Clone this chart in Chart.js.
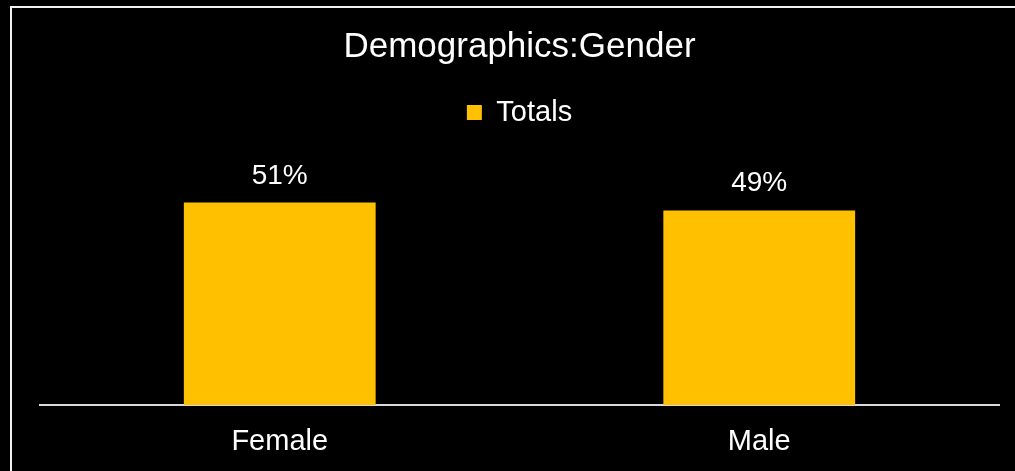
<!DOCTYPE html>
<html>
<head>
<meta charset="utf-8">
<script src="https://cdn.jsdelivr.net/npm/chart.js@4/dist/chart.umd.min.js"></script>
<style>
    html, body { margin: 0; padding: 0; background: #000; }
    #wrap { width: 1015px; height: 471px; }
</style>
</head>
<body>
<div id="wrap"><canvas id="genderChart"></canvas></div>
<script>
// Gender split
const categories = ['Female', 'Male'];
const totals = [51, 49];
const seriesName = 'Totals';
const chartTitle = 'Demographics:Gender';

const FONT = "'Liberation Sans', Arial, sans-serif";

// black background and the thin frame around the chart
const framePlugin = {
    id: 'frame',
    beforeDraw(chart) {
        const ctx = chart.ctx;
        ctx.save();
        ctx.fillStyle = '#000';
        ctx.fillRect(0, 0, chart.width, chart.height);
        ctx.strokeStyle = '#f2f2f2';
        ctx.lineWidth = 2;
        ctx.strokeRect(11, 7, chart.width, chart.height);
        ctx.restore();
    }
};

// percentage labels above each bar
const valueLabels = {
    id: 'valueLabels',
    afterDatasetsDraw(chart) {
        const ctx = chart.ctx;
        const meta = chart.getDatasetMeta(0);
        ctx.save();
        ctx.font = '28px ' + FONT;
        ctx.fillStyle = '#fff';
        ctx.textAlign = 'center';
        ctx.textBaseline = 'alphabetic';
        meta.data.forEach(function(bar, i) {
            ctx.fillText(totals[i] + '%', bar.x, bar.y - 19);
        });
        ctx.restore();
    }
};

document.addEventListener('DOMContentLoaded', function() {
    const ctx = document.getElementById('genderChart');
    new Chart(ctx.getContext('2d'), {
        type: 'bar',
        data: {
            labels: categories,
            datasets: [{
                label: seriesName,
                data: totals,
                backgroundColor: '#FFC000',
                borderWidth: 0,
                categoryPercentage: 1,
                barPercentage: 0.4
            }]
        },
        options: {
            responsive: true,
            maintainAspectRatio: false,
            animation: false,
            layout: {
                padding: { top: 8, left: 40, right: 16, bottom: 13 }
            },
            plugins: {
                title: {
                    display: true,
                    text: chartTitle,
                    color: '#fff',
                    font: { family: FONT, size: 35, weight: 'normal' },
                    padding: { top: 18, bottom: 20 }
                },
                legend: {
                    display: true,
                    position: 'top',
                    labels: {
                        color: '#fff',
                        boxWidth: 15,
                        boxHeight: 15,
                        font: { family: FONT, size: 29 }
                    }
                },
                tooltip: { enabled: false }
            },
            scales: {
                x: {
                    grid: { display: false, drawTicks: false },
                    border: { display: true, color: '#d9d9d9', width: 2 },
                    ticks: {
                        color: '#fff',
                        padding: 20,
                        font: { family: FONT, size: 29 }
                    },
                    afterFit(scale) {
                        scale.height = 53;
                    }
                },
                y: {
                    display: false,
                    min: 0,
                    max: 67.5
                }
            }
        },
        plugins: [framePlugin, valueLabels]
    });
});
</script>
</body>
</html>
